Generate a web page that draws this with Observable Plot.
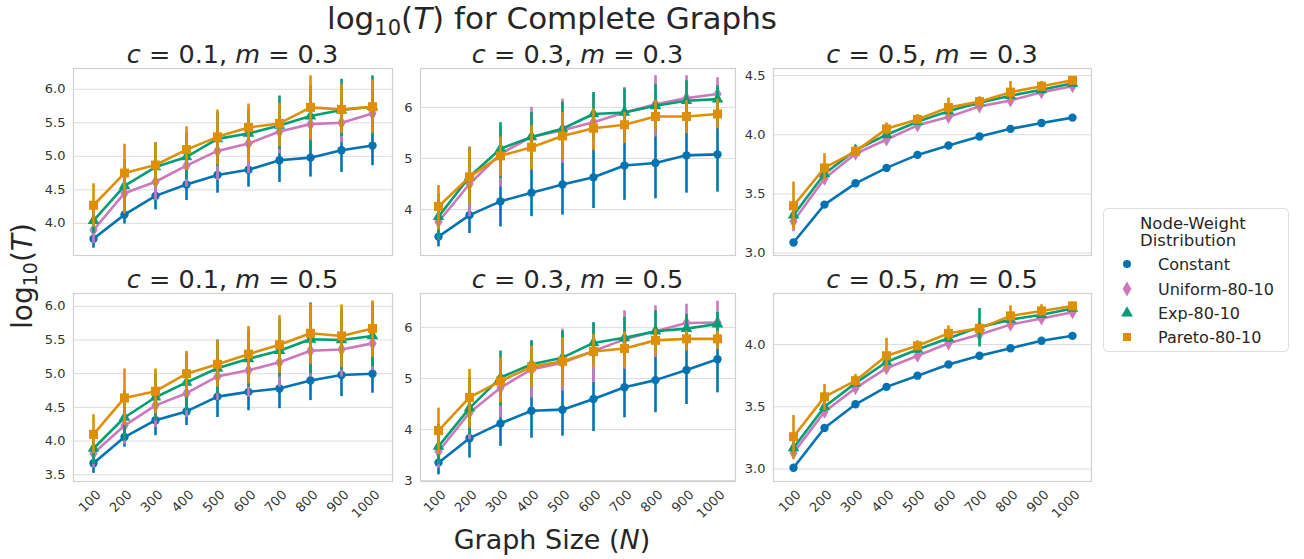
<!DOCTYPE html>
<html><head><meta charset="utf-8">
<script src="https://cdn.jsdelivr.net/npm/d3@7"></script>
<script src="https://cdn.jsdelivr.net/npm/@observablehq/plot@0.6"></script>
<style>
body{margin:0;background:#fff;font-family:"DejaVu Sans",sans-serif;}
#root{position:relative;width:1304px;height:559px;overflow:hidden;background:#fff;}
</style></head><body><div id="root"></div>
<script>
// ---------- data ----------
const N = [100, 200, 300, 400, 500, 600, 700, 800, 900, 1000];
const SERIES = ["Constant", "Uniform-80-10", "Exp-80-10", "Pareto-80-10"];
const COLORS = ["#0173b2", "#cc78bc", "#029e73", "#de8f05"];
const SYMBOLS = ["circle", "diamond", "triangle", "square"];
const C_VALUES = ["0.1", "0.3", "0.5"];
const M_VALUES = ["0.3", "0.5"];

// c=0.1, m=0.3  (rows: Constant, Uniform, Exp, Pareto)
const p1Mean = [[3.77,4.13,4.41,4.58,4.72,4.80,4.94,4.98,5.09,5.16],[3.90,4.45,4.62,4.86,5.08,5.19,5.37,5.48,5.50,5.64],[4.04,4.56,4.84,4.99,5.26,5.34,5.46,5.60,5.69,5.74],[4.27,4.75,4.87,5.10,5.29,5.43,5.49,5.73,5.70,5.74]];
const p1Lo = [[3.63,3.99,4.20,4.34,4.45,4.54,4.61,4.69,4.76,4.86],[3.70,4.24,4.34,4.54,4.64,4.74,5.04,5.20,5.20,5.35],[3.85,4.25,4.55,4.65,4.85,5.00,5.10,5.10,5.30,5.30],[3.94,4.14,4.54,4.79,4.87,4.92,5.14,5.24,5.34,5.34]];
const p1Hi = [[3.89,4.34,4.56,4.89,5.04,5.04,5.25,5.29,5.41,5.44],[4.10,4.64,4.89,5.19,5.34,5.49,5.69,5.80,5.85,5.95],[4.25,4.95,5.20,5.35,5.65,5.70,5.90,6.05,6.15,6.20],[4.59,5.18,5.20,5.44,5.69,5.78,5.79,6.20,6.07,6.14]];

// c=0.3, m=0.3
const p2Mean = [[3.47,3.89,4.16,4.33,4.49,4.63,4.86,4.91,5.06,5.08],[3.76,4.50,5.09,5.42,5.55,5.71,5.90,6.06,6.18,6.26],[3.86,4.64,5.19,5.42,5.58,5.87,5.90,6.03,6.13,6.16],[4.06,4.64,5.05,5.22,5.44,5.59,5.66,5.82,5.82,5.87]];
const p2Lo = [[3.27,3.53,3.66,3.86,3.89,4.02,4.18,4.21,4.32,4.34],[3.40,3.86,4.44,4.83,4.90,5.16,5.48,5.42,5.77,5.90],[3.40,4.12,4.60,4.86,4.96,5.35,5.42,5.61,5.74,5.84],[3.60,4.08,4.64,4.77,4.96,5.16,5.29,5.55,5.48,5.58]];
const p2Hi = [[3.79,4.38,4.57,4.83,5.03,5.22,5.55,5.74,6.00,6.00],[4.05,5.00,5.61,6.00,6.16,6.26,6.39,6.62,6.62,6.58],[4.31,5.22,5.70,5.90,6.10,6.29,6.36,6.45,6.52,6.42],[4.47,5.22,5.42,5.64,5.90,5.97,5.90,6.13,6.13,6.16]];

// c=0.5, m=0.3
const p3Mean = [[3.09,3.41,3.59,3.72,3.83,3.91,3.985,4.05,4.10,4.145],[3.27,3.63,3.84,3.96,4.08,4.15,4.24,4.29,4.36,4.41],[3.32,3.67,3.87,4.00,4.11,4.20,4.27,4.33,4.38,4.435],[3.40,3.72,3.86,4.05,4.13,4.23,4.28,4.36,4.41,4.46]];
const p3Lo = [[3.08,3.40,3.58,3.71,3.82,3.90,3.975,4.04,4.09,4.135],[3.18,3.58,3.80,3.93,4.05,4.12,4.21,4.26,4.33,4.39],[3.24,3.63,3.84,3.97,4.08,4.17,4.24,4.30,4.36,4.42],[3.20,3.62,3.82,4.00,4.09,4.15,4.25,4.28,4.37,4.43]];
const p3Hi = [[3.10,3.42,3.60,3.73,3.84,3.92,3.995,4.06,4.11,4.155],[3.33,3.67,3.88,3.99,4.11,4.18,4.27,4.32,4.39,4.43],[3.38,3.71,3.91,4.03,4.14,4.23,4.30,4.36,4.40,4.45],[3.60,3.84,3.90,4.10,4.17,4.31,4.32,4.45,4.45,4.48]];

// c=0.1, m=0.5
const p4Mean = [[3.67,4.06,4.31,4.44,4.66,4.73,4.78,4.90,4.98,5.00],[3.82,4.23,4.53,4.71,4.96,5.05,5.17,5.34,5.36,5.45],[3.89,4.35,4.65,4.87,5.08,5.22,5.34,5.51,5.50,5.56],[4.10,4.64,4.74,5.00,5.14,5.29,5.43,5.60,5.56,5.67]];
const p4Lo = [[3.52,3.91,4.08,4.23,4.35,4.45,4.48,4.60,4.66,4.71],[3.60,3.95,4.20,4.35,4.60,4.65,4.80,4.95,4.95,5.05],[3.65,4.00,4.30,4.45,4.70,4.80,4.95,5.00,5.05,5.10],[3.81,4.23,4.40,4.65,4.80,4.85,5.00,5.14,5.09,5.24]];
const p4Hi = [[3.81,4.28,4.45,4.72,4.95,5.02,5.09,5.19,5.30,5.30],[4.00,4.50,4.85,5.05,5.35,5.45,5.55,5.75,5.80,5.85],[4.10,4.75,5.00,5.30,5.50,5.65,5.80,6.05,5.95,6.05],[4.39,5.07,5.07,5.33,5.49,5.70,5.86,6.03,6.02,6.08]];

// c=0.3, m=0.5
const p5Mean = [[3.35,3.83,4.12,4.37,4.39,4.60,4.83,4.97,5.17,5.38],[3.57,4.33,4.82,5.18,5.31,5.54,5.77,5.93,6.09,6.10],[3.67,4.42,5.02,5.28,5.41,5.70,5.80,5.93,5.98,6.07],[3.98,4.63,4.95,5.23,5.34,5.53,5.59,5.75,5.78,5.78]];
const p5Lo = [[3.11,3.44,3.67,3.83,3.87,3.96,4.23,4.33,4.49,4.72],[3.24,3.80,4.23,4.62,4.75,4.92,5.18,5.41,5.67,5.74],[3.31,3.90,4.46,4.82,4.88,5.28,5.38,5.54,5.61,5.77],[3.50,4.03,4.52,4.82,4.85,5.21,5.21,5.47,5.54,5.57]];
const p5Hi = [[3.57,4.16,4.49,4.85,4.95,5.21,5.44,5.61,5.80,6.00],[3.83,4.88,5.41,5.74,5.97,6.07,6.33,6.43,6.46,6.52],[4.10,5.02,5.54,5.74,5.93,6.10,6.20,6.33,6.26,6.30],[4.42,5.18,5.41,5.64,5.80,5.87,5.92,5.97,5.93,5.93]];

// c=0.5, m=0.5
const p6Mean = [[3.01,3.33,3.52,3.66,3.75,3.84,3.91,3.97,4.03,4.07],[3.13,3.46,3.65,3.81,3.91,4.01,4.08,4.16,4.21,4.26],[3.17,3.50,3.69,3.86,3.96,4.05,4.14,4.20,4.24,4.29],[3.26,3.58,3.71,3.91,3.99,4.09,4.13,4.23,4.27,4.31]];
const p6Lo = [[3.00,3.32,3.51,3.65,3.74,3.83,3.90,3.96,4.02,4.06],[3.08,3.42,3.62,3.78,3.88,3.98,4.04,4.13,4.18,4.24],[3.10,3.46,3.66,3.83,3.93,4.02,3.98,4.17,4.21,4.27],[3.08,3.47,3.66,3.79,3.95,4.03,4.10,4.14,4.23,4.29]];
const p6Hi = [[3.02,3.34,3.53,3.67,3.76,3.85,3.92,3.98,4.04,4.08],[3.18,3.50,3.68,3.84,3.94,4.04,4.12,4.19,4.24,4.28],[3.24,3.54,3.72,3.89,3.99,4.08,4.29,4.23,4.27,4.32],[3.43,3.68,3.76,4.05,4.03,4.15,4.16,4.31,4.32,4.34]];

const Y_TICKS_1 = [4.0, 4.5, 5.0, 5.5, 6.0];
const Y_TICKS_2 = [4, 5, 6];
const Y_TICKS_3 = [3.0, 3.5, 4.0, 4.5];
const Y_TICKS_4 = [3.5, 4.0, 4.5, 5.0, 5.5, 6.0];
const Y_TICKS_5 = [3, 4, 5, 6];
const Y_TICKS_6 = [3.0, 3.5, 4.0];

// ---------- layout ----------
const panels = [
  {c:0, m:0, mean:p1Mean, lo:p1Lo, hi:p1Hi, domain:[3.52,6.31], ticks:Y_TICKS_1, fmt:".1f", fx:73,  fy:68,  fw:319, fh:187, showX:false},
  {c:1, m:0, mean:p2Mean, lo:p2Lo, hi:p2Hi, domain:[3.10,6.76], ticks:Y_TICKS_2, fmt:"d",   fx:420, fy:68,  fw:315, fh:187, showX:false},
  {c:2, m:0, mean:p3Mean, lo:p3Lo, hi:p3Hi, domain:[2.98,4.56], ticks:Y_TICKS_3, fmt:".1f", fx:773, fy:68,  fw:318, fh:187, showX:false},
  {c:0, m:1, mean:p4Mean, lo:p4Lo, hi:p4Hi, domain:[3.40,6.19], ticks:Y_TICKS_4, fmt:".1f", fx:73,  fy:293, fw:319, fh:188, showX:true},
  {c:1, m:1, mean:p5Mean, lo:p5Lo, hi:p5Hi, domain:[2.98,6.67], ticks:Y_TICKS_5, fmt:"d",   fx:420, fy:293, fw:315, fh:188, showX:true},
  {c:2, m:1, mean:p6Mean, lo:p6Lo, hi:p6Hi, domain:[2.90,4.41], ticks:Y_TICKS_6, fmt:".1f", fx:773, fy:293, fw:318, fh:188, showX:true},
];
const R = {circle:4.2, diamond:4.3, triangle:4.3, square:5.1};

const root = document.getElementById("root");

panels.forEach(p => {
  const mL = 50, mR = 2, mT = 4, mB = p.showX ? 50 : 4;
  const marks = [
    Plot.gridY(p.ticks, {stroke:"#dcdcdc", strokeOpacity:1, strokeWidth:1}),
    Plot.frame({stroke:"#d0d0d0", strokeWidth:1.2}),
    Plot.axisY(p.ticks, {tickSize:0, tickPadding:8, tickFormat:d3.format(p.fmt), fontSize:13, fill:"#333", label:null})
  ];
  if (p.showX) {
    marks.push(Plot.text(N, {x:d=>d, frameAnchor:"bottom", rotate:-45, textAnchor:"end", dx:8, dy:14, fontSize:13, fill:"#333", text:d=>String(d)}));
  }
  SERIES.forEach((s, i) => {
    const rows = N.map((n, j) => ({N:n, mean:p.mean[i][j], lo:p.lo[i][j], hi:p.hi[i][j]}));
    marks.push(Plot.ruleX(rows, {x:"N", y1:"lo", y2:"hi", stroke:COLORS[i], strokeWidth:2.6}));
    marks.push(Plot.line(rows, {x:"N", y:"mean", stroke:COLORS[i], strokeWidth:2.6}));
    marks.push(Plot.dot(rows, {x:"N", y:"mean", symbol:SYMBOLS[i], fill:COLORS[i], stroke:"none", r:R[SYMBOLS[i]]}));
  });
  const chart = Plot.plot({
    width: p.fw + mL + mR, height: p.fh + mT + mB,
    marginLeft:mL, marginRight:mR, marginTop:mT, marginBottom:mB,
    x:{type:"point", domain:N, padding:0.5, axis:null},
    y:{domain:p.domain, axis:null},
    style:{fontFamily:"DejaVu Sans", background:"transparent", overflow:"visible"},
    marks
  });
  chart.style.position = "absolute";
  chart.style.left = (p.fx - mL) + "px";
  chart.style.top = (p.fy - mT) + "px";
  root.appendChild(chart);
});

// ---------- text overlay ----------
const ov = d3.select(root).append("svg")
  .attr("width", 1304).attr("height", 559)
  .style("position","absolute").style("left","0px").style("top","0px")
  .style("font-family","DejaVu Sans").attr("fill","#262626");

// main title
const t = ov.append("text").attr("x", 552).attr("y", 29).attr("text-anchor","middle").attr("font-size", 31);
t.append("tspan").text("log");
t.append("tspan").attr("font-size", 21).attr("baseline-shift","-6").text("10");
t.append("tspan").text("(");
t.append("tspan").attr("font-style","italic").text("T");
t.append("tspan").text(") for Complete Graphs");

// subplot titles
panels.forEach(p => {
  const st = ov.append("text").attr("x", p.fx + p.fw/2).attr("y", p.fy - 5).attr("text-anchor","middle").attr("font-size", 25.5).attr("xml:space","preserve");
  st.append("tspan").attr("font-style","italic").text("c");
  st.append("tspan").text(" = " + C_VALUES[p.c] + ", ");
  st.append("tspan").attr("font-style","italic").text("m");
  st.append("tspan").text(" = " + M_VALUES[p.m]);
});

// y label
const yl = ov.append("text").attr("transform","translate(32,276) rotate(-90)").attr("text-anchor","middle").attr("font-size", 28);
yl.append("tspan").text("log");
yl.append("tspan").attr("font-size", 19).attr("baseline-shift","-5").text("10");
yl.append("tspan").text("(");
yl.append("tspan").attr("font-style","italic").text("T");
yl.append("tspan").text(")");

// x label
const xl = ov.append("text").attr("x", 552).attr("y", 549).attr("text-anchor","middle").attr("font-size", 27);
xl.append("tspan").text("Graph Size (");
xl.append("tspan").attr("font-style","italic").text("N");
xl.append("tspan").text(")");

// legend
const lg = ov.append("g");
lg.append("rect").attr("x",1103.5).attr("y",208.5).attr("width",185).attr("height",143).attr("rx",4)
  .attr("fill","#fff").attr("stroke","#dedede");
lg.append("text").attr("x",1140).attr("y",229).attr("font-size",16.5).text("Node-Weight");
lg.append("text").attr("x",1140).attr("y",246).attr("font-size",16.5).text("Distribution");
const itemY = [264, 289, 313, 337];
const LEG_R = {circle:4.0, diamond:4.6, triangle:4.4, square:4.5};
SERIES.forEach((s, i) => {
  const sym = {circle:d3.symbolCircle, diamond:d3.symbolDiamond, triangle:d3.symbolTriangle, square:d3.symbolSquare}[SYMBOLS[i]];
  const r = LEG_R[SYMBOLS[i]];
  lg.append("path").attr("d", d3.symbol(sym, Math.PI*r*r)()).attr("transform",`translate(1127,${itemY[i]})`).attr("fill",COLORS[i]);
  lg.append("text").attr("x",1158).attr("y",itemY[i]+6).attr("font-size",16).text(s);
});
</script></body></html>
